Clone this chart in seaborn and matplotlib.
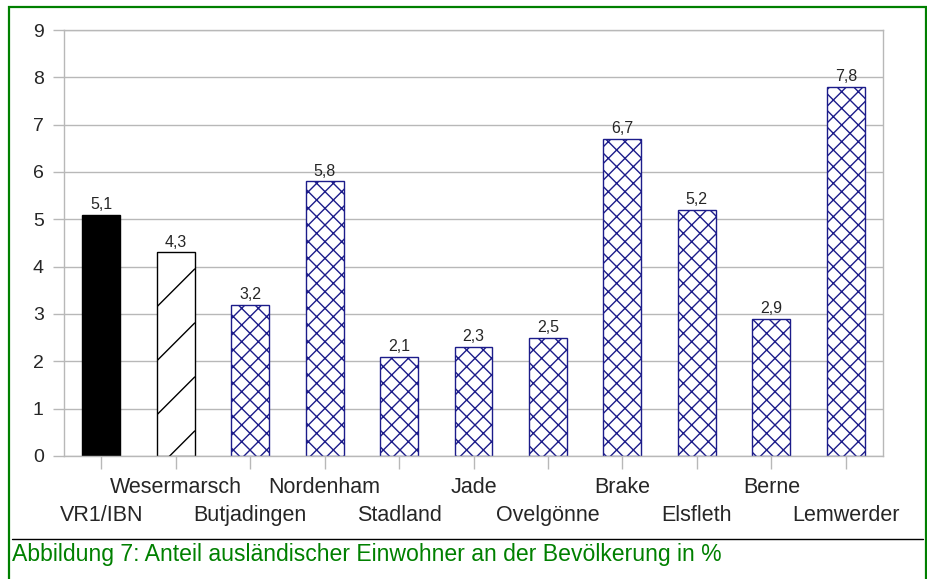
import matplotlib
matplotlib.use("Agg")
import matplotlib.pyplot as plt
import seaborn as sns
from matplotlib.lines import Line2D
from matplotlib.patches import Rectangle
from matplotlib.transforms import IdentityTransform

# Daten
gemeinden = ["VR1/IBN", "Wesermarsch", "Butjadingen", "Nordenham", "Stadland",
             "Jade", "Ovelgönne", "Brake", "Elsfleth", "Berne", "Lemwerder"]
anteil = [5.1, 4.3, 3.2, 5.8, 2.1, 2.3, 2.5, 6.7, 5.2, 2.9, 7.8]
y_ticks = list(range(0, 10))
caption = "Abbildung 7: Anteil ausländischer Einwohner an der Bevölkerung in %"

sns.set_style("white")
plt.rcParams["font.family"] = ["Liberation Sans", "DejaVu Sans"]
plt.rcParams["hatch.linewidth"] = 1.0

grau = "#b8b8b8"
navy = "#1c1c8a"

fig = plt.figure(figsize=(9.28, 5.79), dpi=100)
ax = fig.add_axes([64 / 928, 1 - 456 / 579, (883 - 64) / 928, (456 - 30) / 579])

sns.barplot(x=gemeinden, y=anteil, color="white", width=0.51, errorbar=None,
            edgecolor="black", linewidth=1, ax=ax)

# Balken einfärben / schraffieren
for i, p in enumerate(ax.patches):
    if i == 0:
        p.set_facecolor("black")
    elif i == 1:
        p.set_facecolor("white")
    else:
        p.set_facecolor("white")
        p.set_edgecolor(navy)
        p.set_hatch("xx")

# Werte über den Balken
for i, v in enumerate(anteil):
    ax.annotate(f"{v:.1f}".replace(".", ","), (i, v), xytext=(0, 2),
                textcoords="offset points", ha="center", va="bottom", fontsize=11.5)

ax.set_ylim(0, 9)
ax.set_xlim(-0.5, len(gemeinden) - 0.5)
ax.set_yticks(y_ticks)
ax.yaxis.grid(True, color=grau, linewidth=1)
ax.set_axisbelow(True)
for s in ax.spines.values():
    s.set_color(grau)
    s.set_linewidth(1)

ax.set_xticks(range(len(gemeinden)))
ax.set_xticklabels(gemeinden, fontsize=15.5)
ax.tick_params(axis="x", direction="out", length=9, width=1, color=grau, pad=6, bottom=True)
ax.tick_params(axis="y", direction="out", length=8, width=1, color=grau, pad=6.5,
               labelsize=14, left=True)
ax.set_xlabel("")
ax.set_ylabel("")

# versetzte Beschriftung: gerade Indizes eine Zeile tiefer
for i, t in enumerate(ax.xaxis.get_major_ticks()):
    t.set_pad(6 if i % 2 == 1 else 26)

# dünne Diagonalschraffur für Wesermarsch
fig.canvas.draw()
p = ax.patches[1]
bb = p.get_window_extent()
yk = bb.y0 + 25
while yk - bb.width < bb.y1:
    ln = Line2D([bb.x1 - 300, bb.x1], [yk - 300, yk], color="black", linewidth=1,
                transform=IdentityTransform())
    ax.add_artist(ln)
    ln.set_clip_path(p)
    yk += 54

# Rahmen und Bildunterschrift
fig.patches.append(Rectangle((9 / 928, -0.05), (926 - 9) / 928, 1.05 - 7 / 579,
                             transform=fig.transFigure, fill=False,
                             edgecolor="#008000", linewidth=1.6))
fig.add_artist(Line2D([12 / 928, 923 / 928], [1 - 539 / 579] * 2, color="black",
                      linewidth=1, transform=fig.transFigure))
fig.text(12 / 928, 1 - 561 / 579, caption, color="#008000", fontsize=16.6, va="baseline")

fig.savefig("out.png", dpi=100)
